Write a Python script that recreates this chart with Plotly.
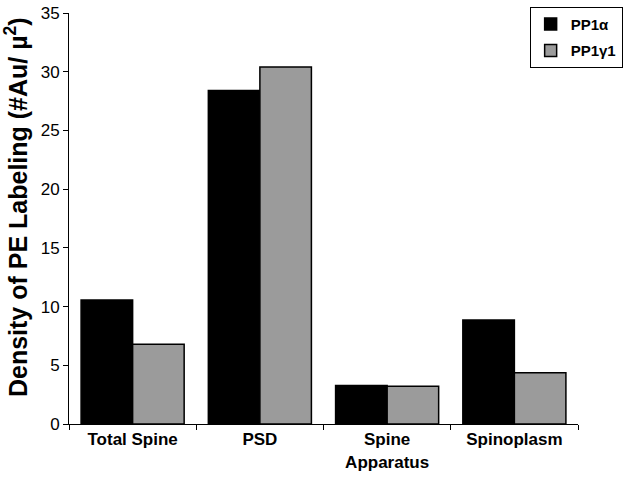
import plotly.graph_objects as go

categories = ["Total Spine", "PSD", "Spine<br>Apparatus", "Spinoplasm"]
pp1a = [10.55, 28.4, 3.28, 8.86]
pp1g1 = [6.8, 30.4, 3.22, 4.37]
series_names = ["<b>PP1α</b>", "<b>PP1γ1</b>"]
yticks = [0, 5, 10, 15, 20, 25, 30, 35]
y_title = "<b>Density of PE Labeling (#Au/ µ<sup>2</sup>)</b>"

FONT = "Liberation Sans, Arial, sans-serif"

fig = go.Figure()
fig.add_trace(go.Bar(x=categories, y=pp1a, name=series_names[0], legendgroup="a",
                     marker=dict(color="#000000", line=dict(color="#000000", width=1.5))))
fig.add_trace(go.Bar(x=categories, y=pp1g1, name=series_names[1], legendgroup="b",
                     marker=dict(color="#9b9b9b", line=dict(color="#000000", width=1.5))))

fig.update_layout(
    width=631, height=483,
    margin=dict(l=69, r=53, t=13, b=59, autoexpand=False),
    paper_bgcolor="white", plot_bgcolor="white",
    barmode="group", bargap=0.19, bargroupgap=0,
    font=dict(family=FONT, color="#000000"),
    showlegend=True,
    legend=dict(x=0.905, y=1.015, xanchor="left", yanchor="top",
                xref="paper", yref="paper", traceorder="grouped", tracegroupgap=4,
                bordercolor="#000000", borderwidth=1, bgcolor="white",
                font=dict(size=15, family=FONT), itemwidth=30),
    xaxis=dict(showline=True, linecolor="#000000", linewidth=1, automargin=False,
               ticks="outside", ticklen=5, tickcolor="#000000", tickson="boundaries",
               tickfont=dict(size=17, family=FONT),
               tickprefix="<b>", ticksuffix="</b>"),
    yaxis=dict(range=[0, 35], tickvals=yticks, showline=True, linecolor="#000000", linewidth=1,
               automargin=False,
               ticks="outside", ticklen=5, tickcolor="#000000", showgrid=False, zeroline=False,
               tickfont=dict(size=17, family=FONT)),
    annotations=[dict(text=y_title, textangle=-90, xref="paper", yref="paper",
                      x=-0.104, y=0.528, xanchor="center", yanchor="middle",
                      showarrow=False, font=dict(size=25, family=FONT))],
)

fig.write_html("out.html", config={"displayModeBar": False},
               post_script="document.body.style.margin='0';document.body.style.padding='0';")
